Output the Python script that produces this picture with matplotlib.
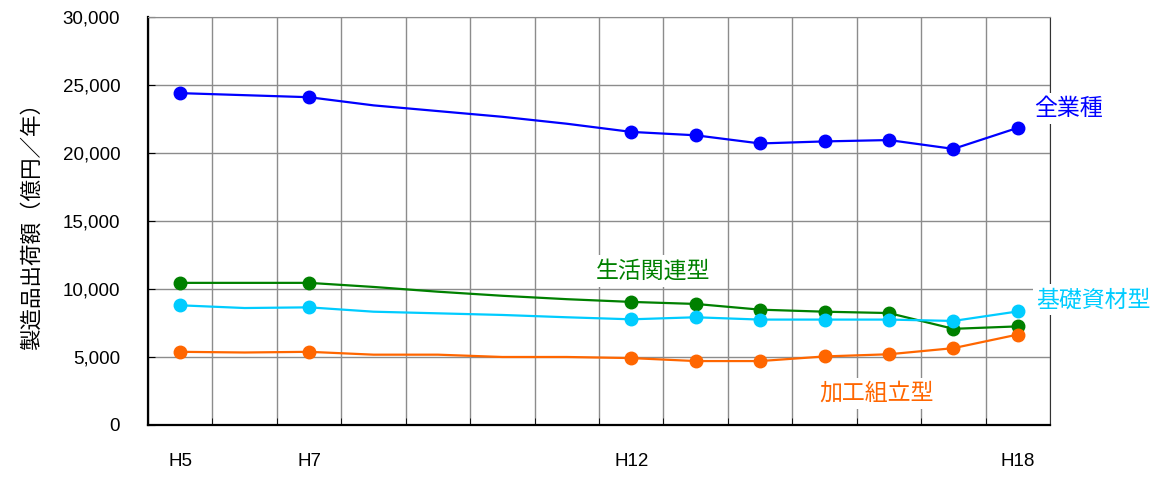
import matplotlib
matplotlib.use('Agg')
import matplotlib.pyplot as plt
import numpy as np

plt.rcParams['font.family'] = ['Noto Sans CJK JP', 'DejaVu Sans']

# 製造品出荷額 (億円/年), H5..H18
years = ['H5', 'H6', 'H7', 'H8', 'H9', 'H10', 'H11', 'H12',
         'H13', 'H14', 'H15', 'H16', 'H17', 'H18']
shown_labels = ['H5', 'H7', 'H12', 'H18']
marked_years = ['H5', 'H7', 'H12', 'H13', 'H14', 'H15', 'H16', 'H17', 'H18']

zen = [24400, 24250, 24100, 23500, 23080, 22660, 22150, 21550,
       21300, 20700, 20850, 20950, 20300, 21850]
seikatsu = [10450, 10450, 10450, 10150, 9800, 9500, 9250, 9050,
            8900, 8480, 8330, 8230, 7070, 7250]
kiso = [8800, 8600, 8650, 8330, 8210, 8090, 7920, 7770,
        7920, 7750, 7750, 7750, 7650, 8350]
kako = [5380, 5330, 5380, 5170, 5170, 5000, 5000, 4920,
        4700, 4700, 5040, 5200, 5650, 6650]

series = [
    ('全業種', zen, '#0000ff', (13.78, 23250)),
    ('生活関連型', seikatsu, '#008000', (7.34, 11330)),
    ('基礎資材型', kiso, '#00ccff', (14.18, 9210)),
    ('加工組立型', kako, '#ff6600', (10.81, 2340)),
]

x = np.arange(len(years))
mark_idx = [years.index(y) for y in marked_years]

fig = plt.figure(figsize=(11.61, 4.78), dpi=100)
ax = fig.add_axes([0.1275, 0.1109, 0.7769, 0.8536])

for name, vals, col, (tx, ty) in series:
    ax.plot(x, vals, color=col, lw=1.6, marker='o', ms=9,
            markevery=mark_idx, zorder=3)
    ax.text(tx, ty, name, color=col, fontsize=16.5, ha='center', va='center',
            zorder=5, clip_on=False,
            bbox=dict(facecolor='white', edgecolor='none', pad=3))

ax.set_xlim(-0.5, len(years) - 0.5)
ax.set_ylim(0, 30000)
ax.set_yticks(np.arange(0, 30001, 5000))
ax.set_yticklabels([f'{v:,}' for v in range(0, 30001, 5000)],
                   family=['Liberation Sans', 'DejaVu Sans'], fontsize=13.5)

ax.set_xticks([years.index(l) for l in shown_labels])
ax.set_xticklabels(shown_labels, family=['Liberation Sans Narrow', 'Liberation Sans'],
                   fontsize=13.5)
ax.set_xticks(np.arange(-0.5, len(years)), minor=True)
ax.tick_params(axis='x', which='major', length=0, pad=20)
ax.tick_params(axis='x', which='minor', direction='in', length=5, color='black')
ax.tick_params(axis='y', direction='in', length=5, pad=20)

ax.grid(True, which='minor', axis='x', color='#8c8c8c', lw=1)
ax.grid(True, which='major', axis='y', color='#8c8c8c', lw=1)
ax.set_axisbelow(True)

for s in ['left', 'bottom']:
    ax.spines[s].set_linewidth(1.6)
    ax.spines[s].set_color('black')
ax.spines['right'].set_color('#333333')
ax.spines['top'].set_color('#8c8c8c')

ax.set_ylabel('製造品出荷額（億円／年）', fontsize=15.5, labelpad=14)

plt.savefig('out.png', dpi=100)
